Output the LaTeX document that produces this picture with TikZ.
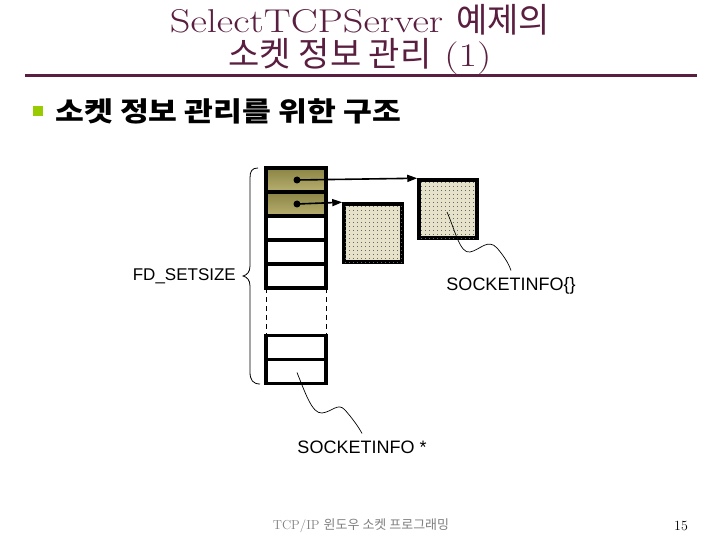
\documentclass[tikz,border=0pt]{standalone}
\usepackage{fontspec}
\setmainfont{Latin Modern Roman}
\newfontfamily\kr{Noto Sans CJK KR}
\newfontfamily\arial{Liberation Sans}
\usetikzlibrary{patterns.meta,arrows.meta}
\definecolor{maroon}{HTML}{5A1E40}
\definecolor{bulletgreen}{HTML}{99CC00}
\definecolor{olivedark}{HTML}{8A8444}
\definecolor{olivelight}{HTML}{B8B070}
\definecolor{boxfill}{HTML}{E6E2CA}
\tikzdeclarepattern{
  name=sparsedots, type=uncolored,
  bottom left={(0pt,0pt)}, top right={(4pt,4pt)}, tile size={(4pt,4pt)},
  code={\pgfpathrectangle{\pgfpoint{1.5pt}{1.5pt}}{\pgfpoint{0.9pt}{0.9pt}}\pgfusepath{fill}}
}
\tikzset{
  cell/.style={draw, line width=3.5pt, minimum width=60pt, minimum height=24pt, inner sep=0pt, outer sep=0pt},
  shadedcell/.style={cell, top color=olivedark, bottom color=olivelight},
  infobox/.style={draw, line width=3.5pt, minimum width=58pt, minimum height=58pt, inner sep=0pt, fill=boxfill,
    postaction={pattern=sparsedots, pattern color=black!60}},
  dotnode/.style={circle, fill=black, minimum size=7pt, inner sep=0pt},
  pointer/.style={line width=1.6pt, -{Triangle[length=10pt,width=7pt]}},
  label/.style={font=\arial\fontsize{18}{18}\selectfont, inner sep=0pt},
  wiggle/.style={line width=0.7pt},
}
\begin{document}
\begin{tikzpicture}[x=1pt,y=-1pt]
\useasboundingbox (0,0) rectangle (720,540);
\fill[white] (0,0) rectangle (720,540);
% title
\node[text=maroon, inner sep=0pt] (t1) at (360,20) {\scalebox{1.22}[1]{\fontsize{33}{33}\selectfont SelectTCPServer}\hspace{13pt}{\kr\fontsize{34}{34}\selectfont 예제의}};
\node[text=maroon, inner sep=0pt] (t2) at (360,57) {{\kr\fontsize{34}{34}\selectfont 소켓 정보 관리}\hspace{13pt}\scalebox{1.22}[1]{\fontsize{33}{33}\selectfont (1)}};
\draw[maroon, line width=3pt] (25,76) -- (697,76);
% bullet
\node[fill=bulletgreen, minimum size=10pt, inner sep=0pt] (bul) at (38,111) {};
\node[anchor=west, inner sep=0pt] (sub) at (55,111) {\scalebox{1.16}[1]{\kr\bfseries\fontsize{27}{27}\selectfont 소켓 정보 관리를 위한 구조}};
% array
\node[shadedcell] (r1) at (296,180) {};
\node[shadedcell] (r2) at (296,204) {};
\node[cell] (r3) at (296,228) {};
\node[cell] (r4) at (296,252) {};
\node[cell] (r5) at (296,276) {};
\node[cell] (r6) at (296,347.5) {};
\node[cell] (r7) at (296,371.5) {};
\draw[dashed, line width=0.9pt, dash pattern=on 5pt off 4pt] (r5.south west) -- (r6.north west);
\draw[dashed, line width=0.9pt, dash pattern=on 5pt off 4pt] (r5.south east) -- (r6.north east);
% pointers
\node[dotnode] (d1) at (297,180) {};
\node[dotnode] (d2) at (297,204) {};
\node[infobox] (b1) at (373,233) {};
\node[infobox] (b2) at (448,209) {};
\draw[pointer] (d1.center) -- (b2.north west);
\draw[pointer] (d2.center) -- (b1.north west);
% brace
\draw[line width=0.8pt] (258,168) .. controls (252,168) and (250,171) .. (250,178)
  -- (250,266) .. controls (250,272) and (247,275) .. (243,276)
  .. controls (247,277) and (250,280) .. (250,286)
  -- (250,372) .. controls (250,380) and (253,384) .. (260,384);
\node[label, anchor=east, font=\arial\fontsize{17}{17}\selectfont] (fd) at (236,276) {FD\_SETSIZE};
% labels
\node[label] (s1) at (511,286) {SOCKETINFO\{\}};
\node[label] (s2) at (362,447) {SOCKETINFO *};
\draw[wiggle] ([shift={(-1,3)}]b2.center) .. controls (455,230) and (460,254) .. (470,252)
  .. controls (480,250) and (488,238) .. (497,248) .. controls (503,255) and (508,262) .. ([yshift=7pt]s1.north);
\draw[wiggle] ([shift={(1,1)}]r7.center) .. controls (305,392) and (312,414) .. (322,413)
  .. controls (332,412) and (338,402) .. (345,410) .. controls (352,418) and (358,426) .. ([yshift=7pt]s2.north);
% footer
\node[text=black!50, inner sep=0pt] (foot) at (361,526) {\fontsize{13}{13}\selectfont TCP/IP {\kr 윈도우 소켓 프로그래밍}};
\node[inner sep=0pt] (pg) at (681,526) {\fontsize{14}{14}\selectfont 15};
\end{tikzpicture}
\end{document}
